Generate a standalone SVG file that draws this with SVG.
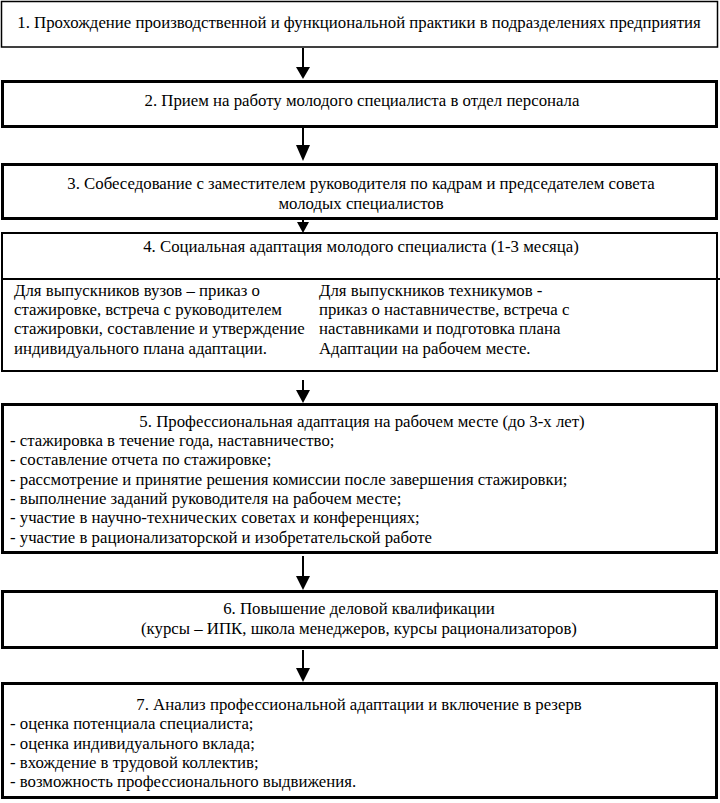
<svg xmlns="http://www.w3.org/2000/svg" width="720" height="803" viewBox="0 0 720 803" font-family="Liberation Serif" font-size="16.8">
<style>
text{font-family:'Liberation Serif',serif;font-size:16.8px;fill:#000}
.c{text-anchor:middle}
.box{fill:#fff;stroke:#000}
.thin{stroke-width:1.5}
.mid{stroke-width:2}
.thick{stroke-width:3}
.conn line{stroke:#000;stroke-width:2}
.conn polygon{fill:#000}
</style>
<rect width="720" height="803" fill="#fff"/>
<g id="node1">
<rect class="box thin" x="1.5" y="1.5" width="716" height="45.5"/>
<text class="c" x="359" y="28">1. Прохождение производственной и функциональной практики в подразделениях предприятия</text>
</g>
<g id="node2">
<rect class="box thick" x="2.5" y="81.5" width="714" height="45"/>
<text class="c" x="362" y="106">2. Прием на работу молодого специалиста в отдел персонала</text>
</g>
<g id="node3">
<rect class="box thick" x="2.5" y="164.5" width="714" height="54"/>
<text class="c" x="361" y="189">3. Собеседование с заместителем руководителя по кадрам и председателем совета</text>
<text class="c" x="361" y="209">молодых специалистов</text>
</g>
<g id="node4">
<rect class="box mid" x="2" y="233" width="715" height="138"/>
<line x1="2" y1="279" x2="720" y2="279" stroke="#000" stroke-width="2"/>
<text class="c" x="361" y="252">4. Социальная адаптация молодого специалиста (1-3 месяца)</text>
<text x="14" y="296">Для выпускников вузов – приказ о</text>
<text x="14" y="315">стажировке, встреча с руководителем</text>
<text x="14" y="334">стажировки, составление и утверждение</text>
<text x="14" y="354">индивидуального плана адаптации.</text>
<text x="319" y="296">Для выпускников техникумов -</text>
<text x="319" y="315">приказ о наставничестве, встреча с</text>
<text x="319" y="334">наставниками и подготовка плана</text>
<text x="319" y="354">Адаптации на рабочем месте.</text>
</g>
<g id="node5">
<rect class="box thick" x="2.5" y="404.5" width="714" height="148"/>
<text class="c" x="362" y="427">5. Профессиональная адаптация на рабочем месте (до 3-х лет)</text>
<text x="10" y="446">- стажировка в течение года, наставничество;</text>
<text x="10" y="465">- составление отчета по стажировке;</text>
<text x="10" y="485">- рассмотрение и принятие решения комиссии после завершения стажировки;</text>
<text x="10" y="504">- выполнение заданий руководителя на рабочем месте;</text>
<text x="10" y="523">- участие в научно-технических советах и конференциях;</text>
<text x="10" y="543">- участие в рационализаторской и изобретательской работе</text>
</g>
<g id="node6">
<rect class="box thick" x="2.5" y="591.5" width="714" height="56"/>
<text class="c" x="359" y="614">6. Повышение деловой квалификации</text>
<text class="c" x="359" y="634">(курсы – ИПК, школа менеджеров, курсы рационализаторов)</text>
</g>
<g id="node7">
<rect class="box thick" x="2.5" y="683.5" width="714" height="114"/>
<text class="c" x="359" y="710">7. Анализ профессиональной адаптации и включение в резерв</text>
<text x="10" y="729">- оценка потенциала специалиста;</text>
<text x="10" y="749">- оценка индивидуального вклада;</text>
<text x="10" y="768">- вхождение в трудовой коллектив;</text>
<text x="10" y="787">- возможность профессионального выдвижения.</text>
</g>
<g id="connectors" class="conn">
<line x1="303" y1="48" x2="303" y2="68"/>
<polygon points="296,67 310,67 303,79"/>
<line x1="303" y1="128" x2="303" y2="146"/>
<polygon points="296,145 310,145 303,161"/>
<line x1="303" y1="219" x2="303" y2="224"/>
<polygon points="297,222 309,222 303,233"/>
<line x1="303" y1="380" x2="303" y2="391"/>
<polygon points="296,390 310,390 303,403"/>
<line x1="303" y1="556" x2="303" y2="577"/>
<polygon points="296,576 310,576 303,590"/>
<line x1="303" y1="650" x2="303" y2="669"/>
<polygon points="296,668 310,668 303,682"/>
</g>
</svg>
